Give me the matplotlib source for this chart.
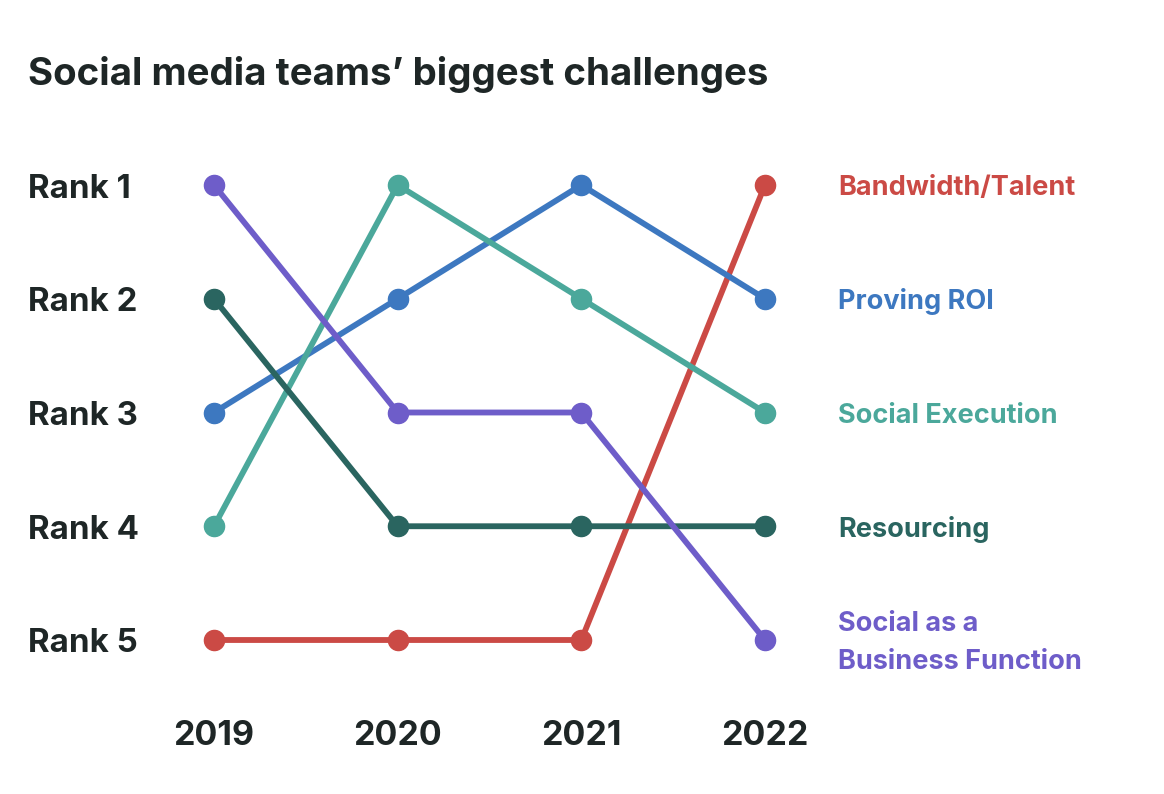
import matplotlib
matplotlib.use("Agg")
import matplotlib.pyplot as plt
import matplotlib.transforms as mtransforms

years = [2019, 2020, 2021, 2022]
series_names = ["Bandwidth/Talent", "Proving ROI", "Social Execution", "Resourcing",
                "Social as a\nBusiness Function"]
bandwidth = [5, 5, 5, 1]
proving_roi = [3, 2, 1, 2]
social_exec = [4, 1, 2, 3]
resourcing = [2, 4, 4, 4]
social_business = [1, 3, 3, 5]
series_values = [bandwidth, proving_roi, social_exec, resourcing, social_business]
colors = ["#CB4A45", "#3D78C0", "#4BA89B", "#2A6560", "#6E5DC9"]
rank_labels = ["Rank 1", "Rank 2", "Rank 3", "Rank 4", "Rank 5"]
title = "Social media teams\u2019 biggest challenges"

W, H = 1164, 794
fig = plt.figure(figsize=(W / 100, H / 100), dpi=100)
fig.patch.set_facecolor("white")
ax = fig.add_axes([214 / W, 1 - 640 / H, (765 - 214) / W, (640 - 185) / H])
ax.set_xlim(2019, 2022)
ax.set_ylim(5, 1)
ax.axis("off")

FONT = "Inter"
dark = "#1E2626"

order = [3, 4, 2, 1, 0]
for i in order:
    ax.plot(years, series_values[i], color=colors[i], lw=4.2, marker="o",
            markersize=14.5, clip_on=False, solid_capstyle="round", zorder=3 + i)

tr = mtransforms.blended_transform_factory(fig.transFigure, ax.transData)
tr = mtransforms.offset_copy(tr, fig=fig, y=-2.2, units="points")
for i, name in enumerate(series_names):
    y_end = series_values[i][-1]
    ax.text(838 / W, y_end, name, transform=tr, ha="left", va="center",
            fontsize=19.5, fontweight="bold", family=FONT, color=colors[i],
            linespacing=1.6)

tr_r = mtransforms.blended_transform_factory(fig.transFigure, ax.transData)
tr_r = mtransforms.offset_copy(tr_r, fig=fig, y=-9, units="points")
for r, lab in enumerate(rank_labels, start=1):
    ax.text(28 / W, r, lab, transform=tr_r, ha="left", va="baseline",
            fontsize=23.8, fontweight="bold", family=FONT, color=dark)

tr_y = mtransforms.blended_transform_factory(ax.transData, fig.transFigure)
for yv in years:
    ax.text(yv, 1 - 745 / H, str(yv), transform=tr_y, ha="center", va="baseline",
            fontsize=24.5, fontweight="bold", family=FONT, color=dark)

fig.text(28 / W, 1 - 85 / H, title, ha="left", va="baseline",
         fontsize=27.7, fontweight="bold", family=FONT, color=dark)

fig.savefig("out.png", dpi=100, facecolor="white")
